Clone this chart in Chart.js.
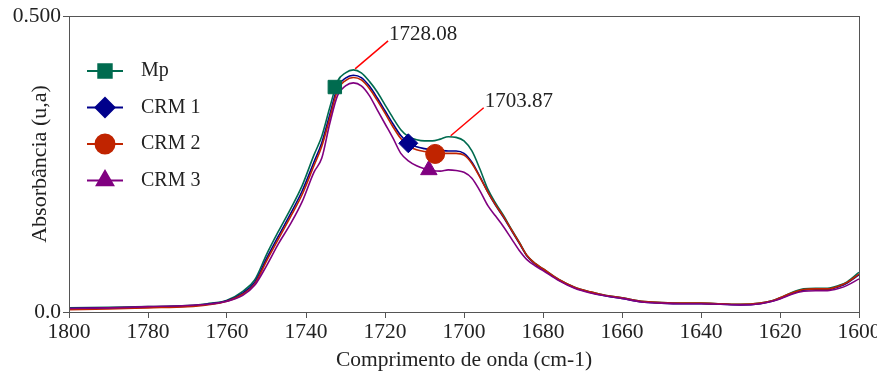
<!DOCTYPE html>
<html lang="pt">
<head>
  <meta charset="UTF-8">
  <title>Espectro FTIR</title>
  <script src="https://cdn.jsdelivr.net/npm/chart.js"></script>
  <style>
    html, body { margin: 0; padding: 0; background: #fff; }
    #wrap { width: 877px; height: 376px; }
  </style>
</head>
<body>
<div id="wrap"><canvas id="ftir" width="877" height="376"></canvas></div>
<script>
// wavenumbers (cm-1)
const waveNumbers = [1800, 1790, 1780, 1770, 1765, 1760, 1756, 1753, 1750, 1747, 1744, 1741, 1738, 1736, 1734, 1732, 1730, 1728, 1726, 1724, 1722, 1720, 1718, 1716, 1714, 1712, 1710, 1708, 1706, 1704, 1702, 1700, 1698, 1696, 1694, 1692, 1690, 1688, 1686, 1684, 1682, 1680, 1676, 1672, 1668, 1664, 1660, 1655, 1650, 1645, 1640, 1635, 1630, 1625, 1622, 1620, 1617, 1614, 1611, 1608, 1605, 1603, 1600];

const mp   = [0.007, 0.008, 0.009, 0.011, 0.014, 0.020, 0.035, 0.054, 0.097, 0.136, 0.173, 0.213, 0.265, 0.297, 0.345, 0.390, 0.404, 0.409, 0.404, 0.390, 0.372, 0.350, 0.328, 0.308, 0.296, 0.291, 0.289, 0.289, 0.292, 0.296, 0.295, 0.289, 0.272, 0.242, 0.208, 0.184, 0.163, 0.140, 0.118, 0.095, 0.082, 0.073, 0.055, 0.042, 0.034, 0.028, 0.024, 0.018, 0.016, 0.015, 0.015, 0.014, 0.013, 0.015, 0.019, 0.024, 0.033, 0.039, 0.040, 0.040, 0.045, 0.051, 0.067];
const crm1 = [0.006, 0.007, 0.008, 0.010, 0.013, 0.019, 0.032, 0.050, 0.090, 0.128, 0.165, 0.204, 0.253, 0.286, 0.333, 0.380, 0.395, 0.400, 0.396, 0.382, 0.362, 0.340, 0.318, 0.298, 0.285, 0.279, 0.276, 0.274, 0.273, 0.272, 0.272, 0.268, 0.253, 0.229, 0.203, 0.180, 0.160, 0.138, 0.116, 0.094, 0.081, 0.072, 0.054, 0.041, 0.033, 0.027, 0.023, 0.017, 0.015, 0.014, 0.014, 0.013, 0.012, 0.014, 0.018, 0.023, 0.031, 0.037, 0.038, 0.038, 0.043, 0.049, 0.063];
const crm2 = [0.004, 0.005, 0.007, 0.009, 0.012, 0.018, 0.030, 0.047, 0.086, 0.123, 0.160, 0.198, 0.247, 0.280, 0.327, 0.375, 0.391, 0.396, 0.392, 0.378, 0.358, 0.336, 0.313, 0.293, 0.280, 0.274, 0.271, 0.269, 0.268, 0.268, 0.268, 0.265, 0.251, 0.228, 0.203, 0.181, 0.161, 0.139, 0.117, 0.095, 0.082, 0.073, 0.055, 0.042, 0.034, 0.028, 0.024, 0.018, 0.016, 0.015, 0.015, 0.014, 0.013, 0.015, 0.019, 0.024, 0.032, 0.038, 0.039, 0.039, 0.044, 0.050, 0.064];
const crm3 = [0.006, 0.007, 0.009, 0.011, 0.013, 0.018, 0.028, 0.045, 0.078, 0.115, 0.148, 0.186, 0.236, 0.260, 0.318, 0.366, 0.382, 0.387, 0.382, 0.366, 0.342, 0.318, 0.294, 0.268, 0.255, 0.247, 0.242, 0.239, 0.238, 0.240, 0.239, 0.236, 0.226, 0.205, 0.180, 0.162, 0.144, 0.124, 0.104, 0.088, 0.078, 0.070, 0.053, 0.040, 0.032, 0.027, 0.023, 0.017, 0.015, 0.014, 0.014, 0.013, 0.012, 0.014, 0.018, 0.022, 0.030, 0.035, 0.036, 0.036, 0.040, 0.045, 0.056];

const seriesNames  = ["Mp", "CRM 1", "CRM 2", "CRM 3"];
const seriesColors = ["#006b4f", "#00008b", "#c02400", "#800080"];
const seriesShapes = ["rect", "rectRot", "circle", "triangle"];
// one marker per curve
const markerX = [1732.7, 1714.1, 1707.3, 1708.9];
const markerY = [0.380, 0.285, 0.267, 0.240];

// peak labels
const peakX = [1728.08, 1703.87];
const peakY = [0.409, 0.296];
const peakText = ["1728.08", "1703.87"];

const yTickValues = [0, 0.5];
const yTickLabels = ["0.0", "0.500"];

const FONT = "'Liberation Serif', 'Times New Roman', serif";
const TXT = "#222";

const curves = [mp, crm1, crm2, crm3];
const datasets = curves.map((vals, i) => ({
  label: seriesNames[i],
  data: waveNumbers.map((w, j) => ({ x: w, y: vals[j] })),
  borderColor: seriesColors[i],
  borderWidth: 1.6,
  pointRadius: 0,
  cubicInterpolationMode: "monotone",
  order: 3 - i
}));
seriesNames.forEach((n, i) => {
  datasets.push({
    label: n + " marker",
    type: "scatter",
    data: [{ x: markerX[i], y: markerY[i] }],
    pointStyle: seriesShapes[i],
    pointRadius: 9.5,
    backgroundColor: seriesColors[i],
    borderColor: seriesColors[i],
    borderWidth: 1,
    order: -1
  });
});

const frame = {
  id: "frame",
  afterDatasetsDraw(chart) {
    const { ctx, chartArea: a, scales } = chart;
    ctx.save();
    // box
    ctx.strokeStyle = "#555";
    ctx.lineWidth = 1;
    ctx.strokeRect(a.left + 0.5, a.top + 0.5, a.right - a.left, a.bottom - a.top);
    // peak annotations
    ctx.strokeStyle = "#ff0000";
    ctx.lineWidth = 1.5;
    ctx.fillStyle = TXT;
    ctx.font = "21px " + FONT;
    ctx.textBaseline = "middle";
    peakX.forEach((px, i) => {
      const x = scales.x.getPixelForValue(px);
      const y = scales.y.getPixelForValue(peakY[i]);
      ctx.beginPath();
      ctx.moveTo(x + 2, y - 1);
      ctx.lineTo(x + 35, y - 29);
      ctx.stroke();
      ctx.fillText(peakText[i], x + 36, y - 35);
    });
    // legend
    ctx.font = "20px " + FONT;
    const lx = a.left + 18, ly = a.top + 55, step = 36.5;
    seriesNames.forEach((n, i) => {
      const y = ly + i * step;
      ctx.strokeStyle = seriesColors[i];
      ctx.lineWidth = 2;
      ctx.beginPath();
      ctx.moveTo(lx, y);
      ctx.lineTo(lx + 36, y);
      ctx.stroke();
      ctx.fillStyle = seriesColors[i];
      Chart.helpers.drawPoint(ctx, { pointStyle: seriesShapes[i], radius: 9.5, rotation: 0, borderWidth: 1 }, lx + 18, y);
      ctx.fillStyle = TXT;
      ctx.fillText(n, lx + 54, y);
    });
    ctx.restore();
  }
};

new Chart(document.getElementById("ftir"), {
  type: "line",
  data: { datasets },
  options: {
    responsive: false,
    animation: false,
    layout: { padding: { top: 16, right: 18, left: 0, bottom: 0 } },
    plugins: { legend: { display: false }, tooltip: { enabled: false } },
    scales: {
      x: {
        type: "linear",
        reverse: true,
        min: 1600,
        max: 1800,
        afterFit(s) { s.height = 64; s.paddingLeft = 0; s.paddingRight = 0; },
        ticks: { stepSize: 20, color: TXT, font: { family: FONT, size: 21.5 }, padding: 1, maxRotation: 0, callback: (v) => String(v) },
        grid: { display: true, drawOnChartArea: false, tickLength: 6, color: "#555" },
        border: { color: "#555" },
        title: { display: true, text: "Comprimento de onda (cm-1)", color: TXT, font: { family: FONT, size: 21.5 }, padding: { top: 0, bottom: 3 } }
      },
      y: {
        min: 0,
        max: 0.5,
        afterFit(s) { s.width = 69; },
        afterBuildTicks(s) { s.ticks = yTickValues.map(v => ({ value: v })); },
        ticks: { color: TXT, font: { family: FONT, size: 21.5 }, padding: 2, callback: (v) => yTickLabels[yTickValues.indexOf(v)] },
        grid: { display: true, drawOnChartArea: false, tickLength: 6, color: "#555" },
        border: { color: "#555" },
        title: { display: true, text: "Absorbância (u,a)", color: TXT, font: { family: FONT, size: 22 }, padding: { top: 27, bottom: 0 } }
      }
    }
  },
  plugins: [frame]
});
</script>
</body>
</html>
